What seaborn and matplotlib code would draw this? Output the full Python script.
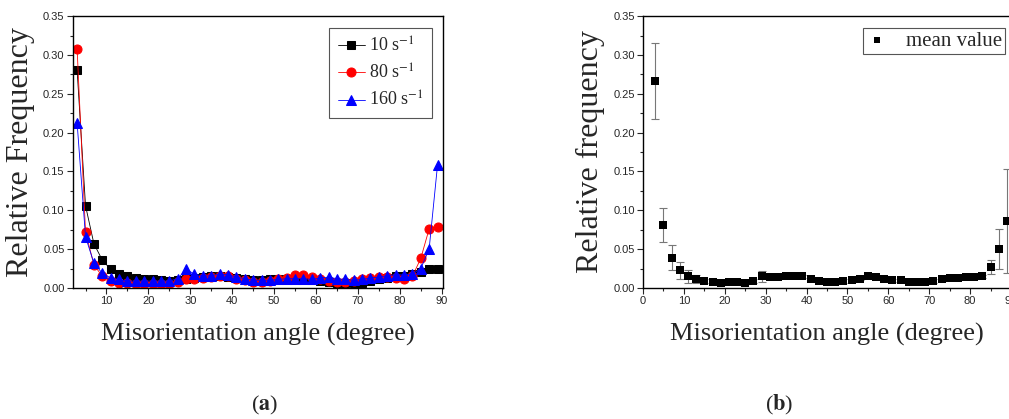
import numpy as np
import pandas as pd
import matplotlib
matplotlib.use("Agg")
import matplotlib.pyplot as plt
from matplotlib.ticker import MultipleLocator
import seaborn as sns

# bin centres (degree)
angles = np.arange(3, 90, 2)

freq_10 = [0.280, 0.106, 0.057, 0.036, 0.024, 0.018, 0.015, 0.013, 0.012, 0.011,
           0.010, 0.009, 0.010, 0.012, 0.013, 0.014, 0.015, 0.015, 0.014, 0.013,
           0.011, 0.010, 0.010, 0.011, 0.011, 0.012, 0.012, 0.011, 0.010, 0.009,
           0.008, 0.006, 0.006, 0.006, 0.007, 0.009, 0.012, 0.013, 0.015, 0.016,
           0.018, 0.020, 0.025, 0.025]
freq_80 = [0.307, 0.072, 0.030, 0.015, 0.009, 0.007, 0.006, 0.005, 0.005, 0.005,
           0.005, 0.005, 0.008, 0.011, 0.012, 0.013, 0.014, 0.015, 0.015, 0.012,
           0.010, 0.008, 0.008, 0.009, 0.011, 0.013, 0.017, 0.017, 0.014, 0.011,
           0.009, 0.008, 0.008, 0.009, 0.011, 0.013, 0.014, 0.014, 0.013, 0.012,
           0.015, 0.038, 0.076, 0.079]
freq_160 = [0.212, 0.066, 0.032, 0.019, 0.013, 0.011, 0.009, 0.009, 0.009, 0.009,
            0.009, 0.009, 0.012, 0.024, 0.018, 0.015, 0.016, 0.018, 0.017, 0.014,
            0.012, 0.010, 0.010, 0.010, 0.011, 0.012, 0.012, 0.012, 0.011, 0.013,
            0.014, 0.012, 0.011, 0.010, 0.011, 0.013, 0.014, 0.016, 0.017, 0.017,
            0.018, 0.025, 0.050, 0.158]

mean_freq = [0.267, 0.081, 0.039, 0.023, 0.015, 0.012, 0.009, 0.008, 0.007, 0.008,
             0.008, 0.007, 0.009, 0.015, 0.014, 0.014, 0.015, 0.015, 0.015, 0.012,
             0.009, 0.008, 0.008, 0.009, 0.010, 0.012, 0.015, 0.014, 0.011, 0.010,
             0.010, 0.008, 0.008, 0.008, 0.009, 0.011, 0.013, 0.013, 0.014, 0.014,
             0.015, 0.027, 0.050, 0.086]
mean_err = [0.049, 0.022, 0.016, 0.011, 0.008, 0.005, 0.003, 0.002, 0.002, 0.002,
            0.002, 0.002, 0.002, 0.007, 0.002, 0.002, 0.002, 0.002, 0.002, 0.002,
            0.002, 0.002, 0.002, 0.002, 0.002, 0.002, 0.002, 0.002, 0.002, 0.002,
            0.002, 0.002, 0.002, 0.002, 0.002, 0.002, 0.002, 0.002, 0.002, 0.002,
            0.002, 0.009, 0.026, 0.067]

rates = ["10 s$^{-1}$", "80 s$^{-1}$", "160 s$^{-1}$"]
colors = ["black", "red", "blue"]
markers = ["s", "o", "^"]

sns.set_style("ticks")
plt.rcParams["font.family"] = ["Liberation Sans", "DejaVu Sans"]
plt.rcParams["mathtext.fontset"] = "stix"
plt.rcParams["xtick.direction"] = "out"
plt.rcParams["ytick.direction"] = "out"

SERIF = ["Liberation Serif", "DejaVu Serif"]

df = pd.DataFrame({
    "angle": np.tile(angles, 3),
    "freq": np.concatenate([freq_10, freq_80, freq_160]),
    "rate": np.repeat(rates, len(angles)),
})

fig = plt.figure(figsize=(10.09, 4.19), dpi=100)
ax_a = fig.add_axes([0.0723, 0.3126, 0.3667, 0.649])
ax_b = fig.add_axes([0.6373, 0.3126, 0.3647, 0.649])

# (a) three strain rates
for rate, c, m in zip(rates, colors, markers):
    sub = df[df["rate"] == rate]
    sns.lineplot(data=sub, x="angle", y="freq", ax=ax_a, color=c, marker=m,
                 markersize=6.5 if m != "s" else 5.5, markeredgecolor=c,
                 linewidth=0.6, label=rate)
ax_a.set_xlim(2, 90.3)
ax_a.xaxis.set_major_locator(MultipleLocator(10))
ax_a.xaxis.set_minor_locator(MultipleLocator(5))
leg = ax_a.legend(loc="upper right", bbox_to_anchor=(0.970, 0.956), borderaxespad=0,
                  prop={"family": SERIF, "size": 13}, fancybox=False, framealpha=1,
                  edgecolor="#555555", handlelength=1.5, labelspacing=0.45,
                  borderpad=0.45, handletextpad=0.25)
leg.get_frame().set_linewidth(0.8)
ax_a.set_ylabel("Relative Frequency", fontsize=23, family=SERIF, labelpad=6)

# (b) mean value with error bars
ax_b.errorbar(angles, mean_freq, yerr=mean_err, fmt="none", ecolor="#777777",
              elinewidth=0.8, capsize=3, capthick=0.8, zorder=1)
sns.scatterplot(x=angles, y=mean_freq, ax=ax_b, marker="s", color="black",
                s=38, edgecolor="black", linewidth=0, label="mean value", zorder=3)
ax_b.set_xlim(0, 90)
ax_b.xaxis.set_major_locator(MultipleLocator(10))
ax_b.xaxis.set_minor_locator(MultipleLocator(5))
leg = ax_b.legend(loc="upper right", bbox_to_anchor=(0.984, 0.956), borderaxespad=0,
                  prop={"family": SERIF, "size": 15}, fancybox=False, framealpha=1,
                  edgecolor="#555555", handlelength=1.0, borderpad=0.15,
                  handletextpad=0.9, markerscale=0.75)
leg.get_frame().set_linewidth(0.8)
ax_b.set_ylabel("Relative frequency", fontsize=23, family=SERIF, labelpad=6)

for ax in (ax_a, ax_b):
    ax.set_ylim(0, 0.35)
    ax.yaxis.set_major_locator(MultipleLocator(0.05))
    ax.yaxis.set_minor_locator(MultipleLocator(0.025))
    ax.yaxis.set_major_formatter(matplotlib.ticker.FormatStrFormatter("%.2f"))
    ax.tick_params(which="major", length=4, width=0.8, labelsize=8, pad=2,
                   top=False, right=False)
    ax.tick_params(which="minor", length=2.5, width=0.8, top=False, right=False)
    for sp in ax.spines.values():
        sp.set_visible(True)
        sp.set_linewidth(1.0)
        sp.set_color("black")
    ax.set_xlabel("Misorientation angle (degree)", fontsize=19, family=SERIF,
                  labelpad=12)

fig.text(0.262, 0.033, r"($\mathbf{a}$)", fontsize=16, family=SERIF,
         ha="center", va="center")
fig.text(0.772, 0.033, r"($\mathbf{b}$)", fontsize=16, family=SERIF,
         ha="center", va="center")

fig.savefig("out.png", dpi=100)
